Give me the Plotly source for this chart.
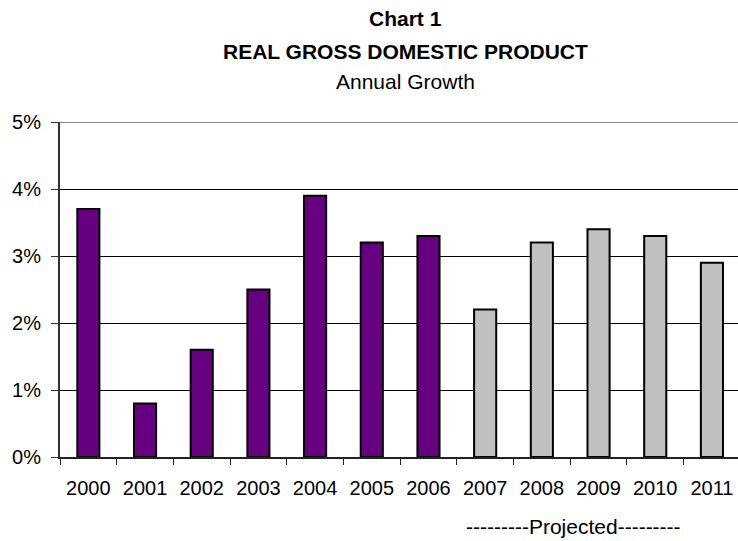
import plotly.graph_objects as go

years = ["2000", "2001", "2002", "2003", "2004", "2005", "2006",
         "2007", "2008", "2009", "2010", "2011"]
growth = [3.7, 0.8, 1.6, 2.5, 3.9, 3.2, 3.3, 2.2, 3.2, 3.4, 3.3, 2.9]
projected = [False] * 7 + [True] * 5
ytick_vals = [0, 1, 2, 3, 4, 5]
ytick_text = ["0%", "1%", "2%", "3%", "4%", "5%"]

colors = ["#C0C0C0" if p else "#660080" for p in projected]

FONT = "Liberation Sans, Arial, sans-serif"

fig = go.Figure()
fig.add_trace(go.Bar(
    x=years, y=growth,
    marker=dict(color=colors, line=dict(color="black", width=2)),
    width=0.39,
    hoverinfo="x+y",
))

fig.add_shape(type="line", xref="paper", x0=0, x1=1, yref="y", y0=5, y1=5,
              line=dict(color="#888888", width=2), layer="above")

TX = (405 - 60) / 678
annotations = [
    dict(text="<b>Chart 1</b>", x=TX, xref="paper", y=1, yref="paper",
         yshift=104, yanchor="middle", xanchor="center", showarrow=False,
         font=dict(size=21, family=FONT)),
    dict(text="<b>REAL GROSS DOMESTIC PRODUCT</b>", x=TX, xref="paper",
         y=1, yref="paper", yshift=71, yanchor="middle", xanchor="center",
         showarrow=False, font=dict(size=21, family=FONT)),
    dict(text="Annual Growth", x=TX, xref="paper", y=1, yref="paper",
         yshift=41, yanchor="middle", xanchor="center", showarrow=False,
         font=dict(size=21, family=FONT)),
    dict(text="---------Projected---------", x=(573 - 60) / 678, xref="paper",
         y=0, yref="paper", yshift=-69, yanchor="middle", xanchor="center",
         showarrow=False, font=dict(size=21, family=FONT)),
]

fig.update_layout(
    width=738, height=541,
    margin=dict(l=60, r=0, t=122, b=84),
    paper_bgcolor="white", plot_bgcolor="white",
    font=dict(family=FONT, color="black", size=20),
    showlegend=False,
    annotations=annotations,
)

fig.update_xaxes(
    type="category",
    range=[-0.5, 11.46],
    showline=True, linecolor="#222222", linewidth=2,
    ticks="outside", ticklen=6, tickcolor="#222222", tickwidth=1,
    tickson="boundaries",
    ticklabelstandoff=12,
    showgrid=False,
    tickfont=dict(size=20),
)
fig.update_yaxes(
    range=[0, 5],
    tickvals=ytick_vals, ticktext=ytick_text,
    showline=True, linecolor="#333333", linewidth=2,
    ticks="outside", ticklen=7, tickcolor="#333333",
    showgrid=True, gridcolor="black", gridwidth=1,
    ticklabelstandoff=6,
    zeroline=False,
    tickfont=dict(size=20),
)

fig.write_html("out.html")
